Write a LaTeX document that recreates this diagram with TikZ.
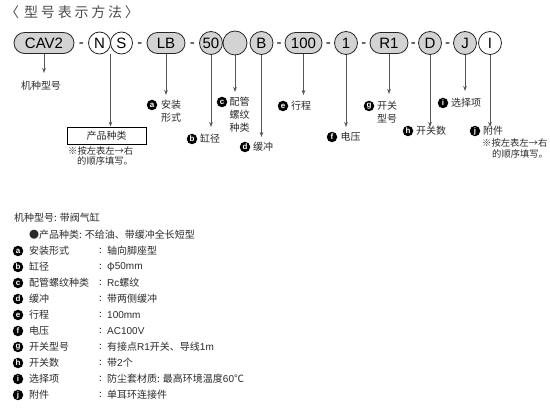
\documentclass[tikz,border=0pt]{standalone}
\usepackage{fontspec}
\setmainfont{Liberation Sans}
\newfontfamily\cjk{Noto Sans CJK SC}
\newfontfamily\cjkspaced[LetterSpace=20]{Noto Sans CJK SC}
\usetikzlibrary{arrows.meta,calc}
\definecolor{pillgray}{HTML}{D3D3D3}
\definecolor{linegray}{HTML}{555555}
\definecolor{txt}{HTML}{2A2A2A}
\tikzset{
  pill/.style={draw=black!85, line width=0.8pt, fill=pillgray, rounded corners=10.5pt,
    minimum height=21pt, inner sep=0pt, font=\fontsize{15}{15}\selectfont},
  circ/.style={draw=black!85, line width=0.8pt, fill=pillgray, circle, minimum size=23pt,
    inner sep=0pt, font=\fontsize{15}{15}\selectfont},
  wcirc/.style={circ, fill=white},
  dashtxt/.style={anchor=base, inner sep=0pt, font=\fontsize{15}{15}\selectfont},
  conn/.style={draw=linegray, line width=0.9pt, -{Stealth[length=5pt,width=3.6pt]}},
  badge/.style={circle, fill=black, text=white, inner sep=0pt, minimum size=10.5pt,
    font=\fontsize{8}{8}\selectfont\bfseries},
  lbl/.style={anchor=west, inner sep=0pt, font=\cjk\fontsize{10}{12}\selectfont, text=txt},
  note/.style={anchor=west, inner sep=0pt, font=\cjk\fontsize{9.3}{10}\selectfont, text=txt},
}
\begin{document}
\begin{tikzpicture}[x=1pt,y=-1pt]
\useasboundingbox (0,0) rectangle (550,409);
% title
\node[anchor=west, inner sep=0pt, font=\cjkspaced\fontsize{14}{14}\selectfont, text=black!70] (title) at (5,12) {〈\hspace{5pt}型号表示方法〉};
% model code row
\node[pill, minimum width=60pt] (cav) at (44,43) {CAV2};
\node[wcirc, minimum size=22pt] (n) at (99.5,43) {N};
\node[wcirc, minimum size=22pt] (s) at (121.5,43) {S};
\node[pill, minimum width=38pt] (lb) at (166,43) {LB};
\node[circ] (d50) at (211,43) {50};
\node[circ, minimum size=24pt] (pt) at (235,43) {};
\node[circ] (b) at (261.5,43) {B};
\node[pill, minimum width=37pt] (h100) at (303.5,43) {100};
\node[circ] (v1) at (346,43) {1};
\node[pill, minimum width=38pt] (r1) at (389,43) {R1};
\node[circ] (dd) at (430,43) {D};
\node[circ] (jj) at (465,43) {J};
\node[wcirc] (ii) at (490,43) {I};
% hyphens
\foreach \a/\b in {cav/n, s/lb, lb/d50, b/h100, h100/v1, v1/r1, r1/dd, dd/jj}
  \node[dashtxt] (dash\a) at ($(\a.east)!0.5!(\b.west)+(0,4.6)$) {-};
% connectors
\coordinate (tcav) at (44,73);
\draw[conn] (cav.south) -- (tcav);
\node[anchor=north, inner sep=0pt, font=\cjk\fontsize{10}{12}\selectfont, text=txt] (lcav) at (41,81) {机种型号};
\node[draw=black, line width=0.8pt, minimum width=79pt, minimum height=17pt, inner sep=0pt,
  font=\cjk\fontsize{10}{10}\selectfont, text=txt] (box) at (106.5,135.5) {产品种类};
\coordinate (nsj) at ($(n.east)!0.5!(s.west)$);
\draw[conn] (nsj |- n.south) -- (nsj |- box.north);
\node[note] (note1a) at (68,151) {※按左表左→右};
\node[note] (note1b) at (77,161) {的顺序填写。};

\coordinate (tlb) at (166,95);
\draw[conn] (lb.south) -- (tlb);
\node[badge] (ba) at (152,105) {a};
\node[lbl] (la1) at (161,105) {安装};
\node[lbl] (la2) at (161,118) {形式};

\coordinate (t50) at (211,127);
\draw[conn] (d50.south) -- (t50);
\node[badge] (bb) at (192,139) {b};
\node[lbl] (lb1) at (200,139) {缸径};

\coordinate (tpt) at (235,92);
\draw[conn] (pt.south) -- (tpt);
\node[badge] (bc) at (222,102) {c};
\node[lbl] (lc1) at (229.5,102) {配管};
\node[lbl] (lc2) at (229.5,115) {螺纹};
\node[lbl] (lc3) at (229.5,128) {种类};

\coordinate (tb) at (261.5,137);
\draw[conn] (b.south) -- (tb);
\node[badge] (bd) at (245,147) {d};
\node[lbl] (ld1) at (253,147) {缓冲};

\coordinate (t100) at (303.5,95);
\draw[conn] (h100.south) -- (t100);
\node[badge] (be) at (283,106) {e};
\node[lbl] (le1) at (291,106) {行程};

\coordinate (tv1) at (346,127);
\draw[conn] (v1.south) -- (tv1);
\node[badge] (bf) at (332,137) {f};
\node[lbl] (lf1) at (340.5,137) {电压};

\coordinate (tr1) at (389,94);
\draw[conn] (r1.south) -- (tr1);
\node[badge] (bg) at (369,106) {g};
\node[lbl] (lg1) at (377,106) {开关};
\node[lbl] (lg2) at (377,119) {型号};

\coordinate (tdd) at (430,127);
\draw[conn] (dd.south) -- (tdd);
\node[badge] (bh) at (408,131) {h};
\node[lbl] (lh1) at (416,131) {开关数};

\coordinate (tjj) at (465,91);
\draw[conn] (jj.south) -- (tjj);
\node[badge] (bi) at (443,103) {i};
\node[lbl] (li1) at (451,103) {选择项};

\coordinate (tii) at (490,127);
\draw[conn] (ii.south) -- (tii);
\node[badge] (bj) at (475,131) {j};
\node[lbl] (lj1) at (483,131) {附件};
\node[note] (note2a) at (482,143) {※按左表左→右};
\node[note] (note2b) at (492,153.5) {的顺序填写。};

% example list
\node[lbl] (ex0) at (14,218) {机种型号: 带阀气缸};
\node[lbl] (ex1) at (29,235) {●产品种类: 不给油、带缓冲全长短型};
\foreach \k/\y/\name/\val in {
  a/251/安装形式/轴向脚座型,
  b/267/缸径/{φ}{\fontspec{Liberation Sans}50mm},
  c/283/配管螺纹种类/{\fontspec{Liberation Sans}Rc}螺纹,
  d/299/缓冲/带两侧缓冲,
  e/315/行程/{\fontspec{Liberation Sans}100mm},
  f/331/电压/{\fontspec{Liberation Sans}AC100V},
  g/347/开关型号/有接点{\fontspec{Liberation Sans}R1}开关、导线{\fontspec{Liberation Sans}1m},
  h/363/开关数/带{\fontspec{Liberation Sans}2}个,
  i/379/选择项/防尘套材质: 最高环境温度{\fontspec{Liberation Sans}60}℃,
  j/395/附件/单耳环连接件}
{
  \node[badge] (lb\k) at (18,\y) {\k};
  \node[lbl] (ln\k) at (29,\y) {\name};
  \node[lbl] (lc\k) at (99,\y) {:};
  \node[lbl] (lv\k) at (107,\y) {\val};
}
\end{tikzpicture}
\end{document}
